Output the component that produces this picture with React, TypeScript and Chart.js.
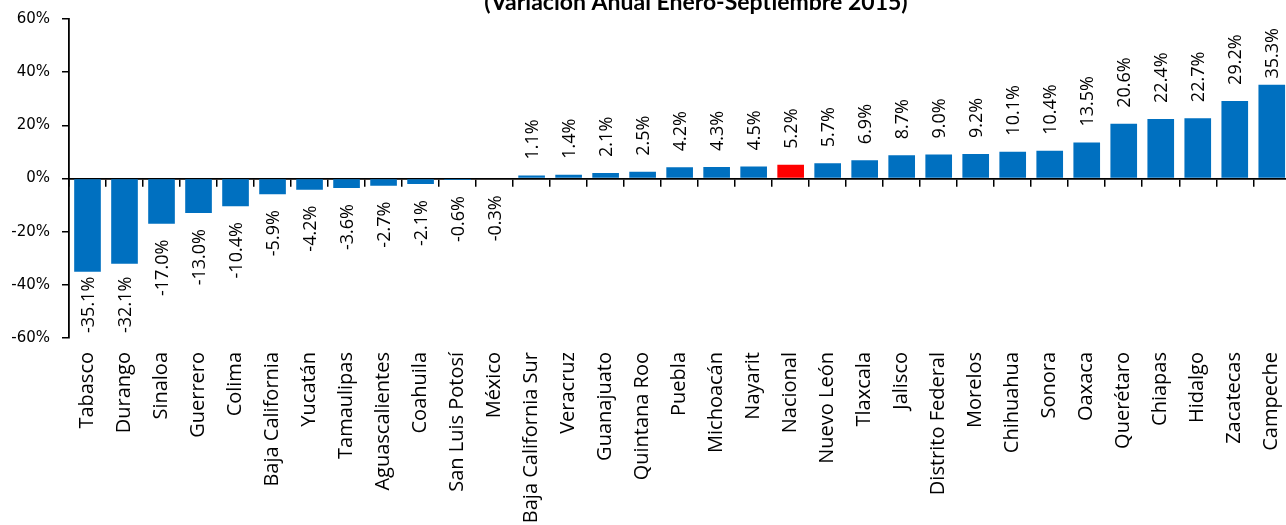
import React, { useEffect, useRef } from 'react';
import { Chart, registerables } from 'chart.js';

Chart.register(...registerables);

const titleText = '(Variación Anual Enero-Septiembre 2015)';

const categories = [
  'Tabasco', 'Durango', 'Sinaloa', 'Guerrero', 'Colima', 'Baja California', 'Yucatán',
  'Tamaulipas', 'Aguascalientes', 'Coahuila', 'San Luis Potosí', 'México',
  'Baja California Sur', 'Veracruz', 'Guanajuato', 'Quintana Roo', 'Puebla', 'Michoacán',
  'Nayarit', 'Nacional', 'Nuevo León', 'Tlaxcala', 'Jalisco', 'Distrito Federal', 'Morelos',
  'Chihuahua', 'Sonora', 'Oaxaca', 'Querétaro', 'Chiapas', 'Hidalgo', 'Zacatecas', 'Campeche',
];

const values = [
  -35.1, -32.1, -17.0, -13.0, -10.4, -5.9, -4.2,
  -3.6, -2.7, -2.1, -0.6, -0.3,
  1.1, 1.4, 2.1, 2.5, 4.2, 4.3,
  4.5, 5.2, 5.7, 6.9, 8.7, 9.0, 9.2,
  10.1, 10.4, 13.5, 20.6, 22.4, 22.7, 29.2, 35.3,
];

const highlightCategory = 'Nacional';
const yTickValues = [-60, -40, -20, 0, 20, 40, 60];

const BLUE = '#0070C0';
const RED = '#FF0000';

const CANVAS_W = 1310;
const CANVAS_H = 545;
const SHIFT_Y = 20;

const dataLabelPlugin = {
  id: 'dataLabels',
  afterDatasetsDraw(chart: any) {
    const ctx = chart.ctx;
    const area = chart.chartArea;
    const meta = chart.getDatasetMeta(0);
    ctx.save();
    ctx.font = '18px "Open Sans"';
    ctx.fillStyle = '#000';
    ctx.textBaseline = 'middle';
    meta.data.forEach((bar: any, i: number) => {
      const v = values[i];
      const text = v.toFixed(1) + '%';
      const w = ctx.measureText(text).width;
      const gap = 16;
      let anchor: number;
      ctx.save();
      if (v >= 0) {
        anchor = bar.y - gap;
        if (anchor - w < area.top + 9) anchor = area.top + 9 + w;
        ctx.translate(bar.x + 1, anchor);
        ctx.rotate(-Math.PI / 2);
        ctx.textAlign = 'left';
      } else {
        anchor = bar.y + gap;
        if (anchor + w > area.bottom - 5) anchor = area.bottom - 5 - w;
        ctx.translate(bar.x + 1, anchor);
        ctx.rotate(-Math.PI / 2);
        ctx.textAlign = 'right';
      }
      ctx.fillText(text, 0, 0);
      ctx.restore();
    });
    ctx.restore();
  },
};

const titlePlugin = {
  id: 'cutTitle',
  afterDraw(chart: any) {
    const ctx = chart.ctx;
    ctx.save();
    ctx.font = 'bold 23px Lato';
    ctx.fillStyle = '#000';
    ctx.textAlign = 'center';
    ctx.textBaseline = 'alphabetic';
    ctx.fillText(titleText, 696, 10 + SHIFT_Y);
    ctx.restore();
  },
};

function BarChart() {
  const ref = useRef<HTMLCanvasElement | null>(null);

  useEffect(() => {
    if (!ref.current) return;
    let chart: any = null;
    let cancelled = false;
    const build = () => {
      if (cancelled || !ref.current) return;
      const colors = categories.map((c) => (c === highlightCategory ? RED : BLUE));
      chart = new Chart(ref.current, {
        type: 'bar',
        data: {
          labels: categories,
          datasets: [
            {
              data: values,
              backgroundColor: colors,
              borderWidth: 0,
              barPercentage: 0.72,
              categoryPercentage: 1,
              xAxisID: 'x',
              yAxisID: 'y',
            },
          ],
        },
        options: {
          responsive: false,
          animation: false,
          devicePixelRatio: 1,
          layout: { padding: { top: 39, right: 15, left: 0, bottom: 0 } },
          plugins: {
            legend: { display: false },
            title: { display: false },
            tooltip: { enabled: false },
          },
          scales: {
            y: {
              type: 'linear',
              position: 'left',
              min: -60,
              max: 60,
              afterBuildTicks: (scale: any) => {
                scale.ticks = yTickValues.map((v) => ({ value: v }));
              },
              afterFit: (scale: any) => {
                scale.width = 69;
              },
              ticks: {
                callback: (v: any) => `${v}%`,
                font: { family: '"DejaVu Sans"', size: 15 },
                color: '#000',
                padding: 12,
              },
              grid: {
                display: true,
                drawOnChartArea: false,
                drawTicks: true,
                tickLength: 7,
                color: '#000',
                lineWidth: 1.5,
              },
              border: { display: true, color: '#000', width: 1.8 },
            },
            x: {
              type: 'category',
              position: { y: 0 },
              offset: true,
              ticks: { display: false },
              grid: {
                display: true,
                offset: true,
                drawOnChartArea: false,
                drawTicks: true,
                tickLength: 7,
                color: '#000',
                lineWidth: 1.5,
              },
              border: { display: true, color: '#000', width: 1.8 },
            },
            x2: {
              type: 'category',
              position: 'bottom',
              labels: categories,
              offset: true,
              afterFit: (scale: any) => {
                scale.height = CANVAS_H - (39 + 319);
              },
              grid: { display: false, drawTicks: false },
              border: { display: false },
              ticks: {
                autoSkip: false,
                minRotation: 90,
                maxRotation: 90,
                padding: 14,
                color: '#000',
                font: { family: '"Open Sans"', size: 20 },
              },
            },
          },
        },
        plugins: [dataLabelPlugin, titlePlugin],
      } as any);
    };
    const fontsApi: any = (document as any).fonts;
    if (fontsApi && fontsApi.load) {
      Promise.all([
        fontsApi.load('18px "Open Sans"'),
        fontsApi.load('20px "Open Sans"'),
        fontsApi.load('bold 23px Lato'),
        fontsApi.load('15px "DejaVu Sans"'),
      ])
        .catch(() => null)
        .then(build);
    } else {
      build();
    }
    return () => {
      cancelled = true;
      if (chart) chart.destroy();
    };
  }, []);

  return (
    <div
      style={{
        position: 'fixed',
        left: 0,
        top: 0,
        width: 1286,
        height: 525,
        overflow: 'hidden',
        background: '#fff',
      }}
    >
      <canvas
        ref={ref}
        width={CANVAS_W}
        height={CANVAS_H}
        style={{ position: 'absolute', left: 0, top: -SHIFT_Y, width: CANVAS_W, height: CANVAS_H }}
      />
    </div>
  );
}

export default function App() {
  return <BarChart />;
}
